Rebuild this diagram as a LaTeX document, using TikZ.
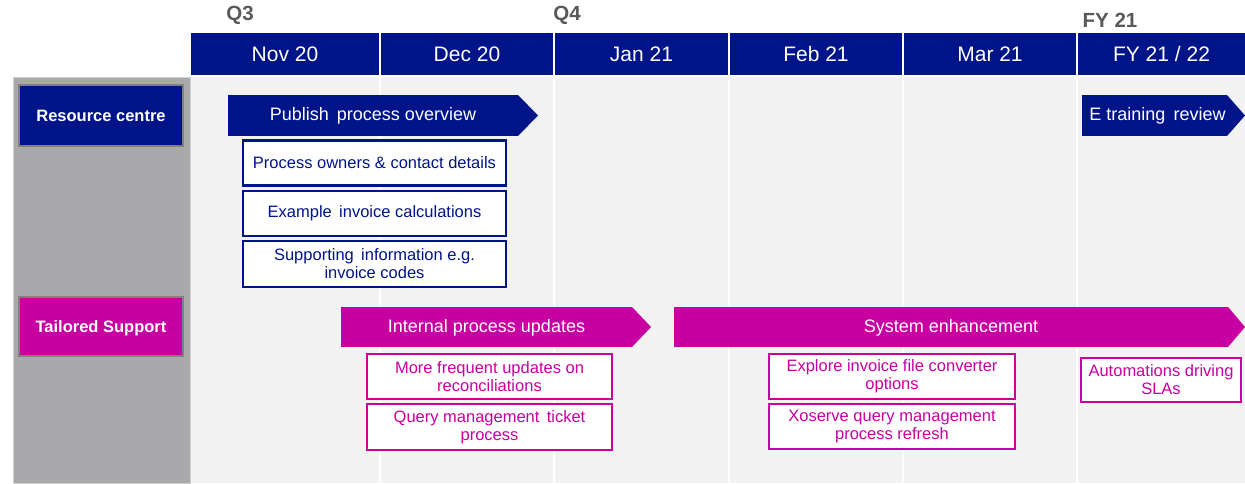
\documentclass[tikz,border=0pt]{standalone}
\usepackage{fontspec}
\setmainfont{Liberation Sans}
\definecolor{nblue}{RGB}{0,20,137}
\definecolor{nmag}{RGB}{200,0,161}
\definecolor{panelgray}{RGB}{169,169,171}
\definecolor{bodygray}{RGB}{242,242,242}
\definecolor{qgray}{RGB}{89,89,89}
\definecolor{lanebord}{RGB}{128,128,128}
\begin{document}
\begin{tikzpicture}[x=1pt,y=-1pt,
  cell/.style={fill=nblue,text=white,font=\fontsize{21}{24}\selectfont,minimum height=42pt,inner sep=0pt,outer sep=0pt},
  qlabel/.style={text=qgray,font=\bfseries\fontsize{20.5}{24}\selectfont,inner sep=0pt},
  lane/.style={draw=lanebord,line width=2pt,text=white,font=\bfseries\fontsize{16.5}{19}\selectfont,inner sep=0pt,minimum width=164pt,text height=12pt,text depth=0pt},
  barblue/.style={fill=nblue,text=white,font=\fontsize{18}{21}\selectfont,inner sep=0pt,outer sep=0pt,minimum height=41pt,text height=13pt,text depth=3pt},
  barmag/.style={fill=nmag,text=white,font=\fontsize{18}{21}\selectfont,inner sep=0pt,outer sep=0pt,minimum height=40pt,text height=13pt,text depth=3pt},
  boxblue/.style={draw=nblue,fill=white,line width=2.8pt,text=nblue,font=\fontsize{16.5}{18}\selectfont,align=center,inner sep=0pt},
  boxmag/.style={draw=nmag,fill=white,line width=2.8pt,text=nmag,font=\fontsize{16.5}{18}\selectfont,align=center,inner sep=0pt}
]
\useasboundingbox (0,0) rectangle (1245,483);
\fill[white] (0,0) rectangle (1245,483);
% body background and column lines
\fill[bodygray] (191,77) rectangle (1245,483);
\foreach \x in {380,554,729,903,1077} \draw[white,line width=1.6pt] (\x,77) -- (\x,483);
% left panel
\fill[panelgray] (13,77) rectangle (190,483);
\draw[black!18,line width=0.8pt] (13,77) rectangle (190,483);
% quarter labels
\node[qlabel] (q3) at (240,15.5) {Q3};
\node[qlabel] (q4) at (567,15.5) {Q4};
\node[qlabel] (fy) at (1110,20.5) {FY 21};
% header cells
\node[cell,minimum width=188pt] (nov) at (285,54) {Nov 20};
\node[cell,minimum width=172pt] (dec) at (467,54) {Dec 20};
\node[cell,minimum width=173pt] (jan) at (641.5,54) {Jan 21};
\node[cell,minimum width=172pt] (feb) at (816,54) {Feb 21};
\node[cell,minimum width=172pt] (mar) at (990,54) {Mar 21};
\node[cell,minimum width=167pt] (fyc) at (1161.5,54) {FY 21 / 22};
% lane labels
\node[lane,fill=nblue,minimum height=61pt] (rc) at (101,115.5) {Resource centre};
\node[lane,fill=nmag,minimum height=59pt] (ts) at (101,326.5) {Tailored Support};
% blue bars
\node[barblue,minimum width=290pt] (pub) at (373,115.5) {Publish\, process overview};
\fill[nblue] (pub.north east) -- ([xshift=20pt]pub.east) -- (pub.south east) -- cycle;
\node[barblue,minimum width=145pt] (etr) at (1154.5,115.5) {\hspace{6pt}E training\, review};
\fill[nblue] (etr.north east) -- ([xshift=18pt]etr.east) -- (etr.south east) -- cycle;
% blue boxes
\node[boxblue,minimum width=263pt,minimum height=45pt] (b1) at (374.5,163) {Process owners \& contact details};
\node[boxblue,minimum width=263pt,minimum height=45pt] (b2) at (374.5,213.5) {Example\, invoice calculations};
\node[boxblue,minimum width=263pt,minimum height=46pt] (b3) at (374.5,264) {Supporting\, information e.g.\\invoice codes};
% magenta bars
\node[barmag,minimum width=291pt] (ipu) at (486.5,327) {Internal process updates};
\fill[nmag] (ipu.north east) -- ([xshift=19pt]ipu.east) -- (ipu.south east) -- cycle;
\node[barmag,minimum width=554pt] (sys) at (951,327) {System enhancement};
\fill[nmag] (sys.north east) -- ([xshift=17pt]sys.east) -- (sys.south east) -- cycle;
% magenta boxes
\node[boxmag,minimum width=245pt,minimum height=45pt] (m1) at (489.5,376.5) {More frequent updates on\\reconciliations};
\node[boxmag,minimum width=245pt,minimum height=46pt] (m2) at (489.5,427) {Query management\, ticket\\process};
\node[boxmag,minimum width=246pt,minimum height=45pt] (m3) at (892,376.5) {Explore invoice file converter\\options};
\node[boxmag,minimum width=246pt,minimum height=45pt] (m4) at (892,426.5) {Xoserve query management\\process refresh};
\node[boxmag,minimum width=160pt,minimum height=44pt] (m5) at (1161,380) {Automations driving\\SLAs};
\end{tikzpicture}
\end{document}
